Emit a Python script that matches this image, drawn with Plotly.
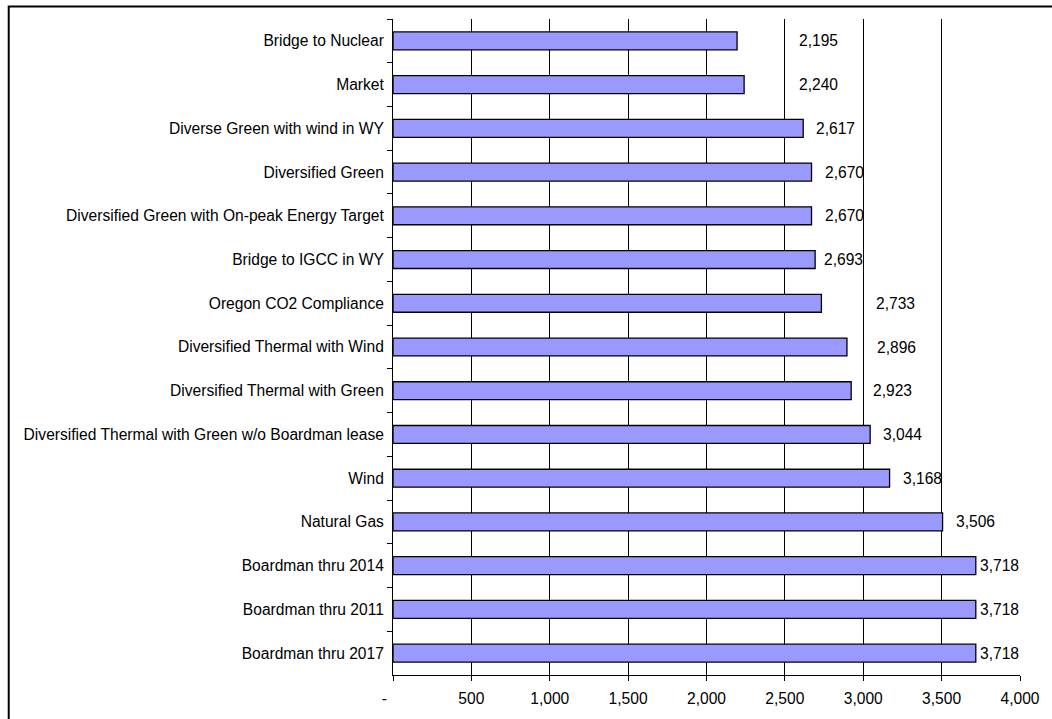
import plotly.graph_objects as go

# Portfolio scenarios, listed top to bottom
scenarios = [
    "Bridge to Nuclear",
    "Market",
    "Diverse Green with wind in WY",
    "Diversified Green",
    "Diversified Green with On-peak Energy Target",
    "Bridge to IGCC in WY",
    "Oregon CO2 Compliance",
    "Diversified Thermal with Wind",
    "Diversified Thermal with Green",
    "Diversified Thermal with Green w/o Boardman lease",
    "Wind",
    "Natural Gas",
    "Boardman thru 2014",
    "Boardman thru 2011",
    "Boardman thru 2017",
]
values = [2195, 2240, 2617, 2670, 2670, 2693, 2733, 2896, 2923, 3044,
          3168, 3506, 3718, 3718, 3718]

tick_vals = [0, 500, 1000, 1500, 2000, 2500, 3000, 3500, 4000]
tick_text = ["-\u00a0\u00a0\u00a0\u00a0", "500", "1,000", "1,500", "2,000",
             "2,500", "3,000", "3,500", "4,000"]

# horizontal nudges (px) for the value labels
label_shift = [60, 53, 11, 11, 11, 7, 53, 28, 20, 11, 11, 11, 2]
label_shift += [2, 2]

FONT = "Liberation Sans, Arial, sans-serif"
FS = 15.6

fig = go.Figure(
    go.Bar(
        y=scenarios,
        x=values,
        orientation="h",
        marker=dict(color="#9999FF", line=dict(color="#000000", width=1.3)),
        hoverinfo="x+y",
    )
)

for name, v, dx in zip(scenarios, values, label_shift):
    fig.add_annotation(
        x=v, y=name, xref="x", yref="y",
        text=f"{v:,}", showarrow=False,
        xanchor="left", yanchor="middle", xshift=dx,
        font=dict(family=FONT, size=FS, color="#000000"),
    )

# outer chart frame
W, H = 1052, 719
ml, mr, mt, mb = 393, 30, 19, 44
pw, ph = W - ml - mr, H - mt - mb
fx0 = (7.5 - ml) / pw
fy1 = 1 + (mt - 6.5) / ph
fig.add_shape(
    type="rect", xref="paper", yref="paper",
    x0=fx0, x1=1 + (mr + 20) / pw, y0=-(mb + 20) / ph, y1=fy1,
    line=dict(color="#000000", width=2), fillcolor="rgba(0,0,0,0)",
    layer="above",
)

fig.update_layout(
    width=W, height=H,
    margin=dict(l=ml, r=mr, t=mt, b=mb),
    paper_bgcolor="#FFFFFF", plot_bgcolor="#FFFFFF",
    bargap=0.59,
    showlegend=False,
    font=dict(family=FONT, size=FS, color="#000000"),
    xaxis=dict(
        range=[0, 4000],
        tickvals=tick_vals, ticktext=tick_text,
        showgrid=True, gridcolor="#000000", gridwidth=1,
        showline=True, linecolor="#000000", linewidth=1,
        ticks="outside", ticklen=5, tickcolor="#000000",
        ticklabelstandoff=4,
        zeroline=False, fixedrange=True,
        tickfont=dict(family=FONT, size=FS, color="#000000"),
    ),
    yaxis=dict(
        type="category", autorange="reversed",
        showgrid=False,
        showline=True, linecolor="#000000", linewidth=1,
        ticks="outside", ticklen=5, tickcolor="#000000",
        tickson="boundaries",
        ticklabelstandoff=5,
        zeroline=False, fixedrange=True,
        tickfont=dict(family=FONT, size=FS, color="#000000"),
    ),
)

fig.write_html("out.html")
